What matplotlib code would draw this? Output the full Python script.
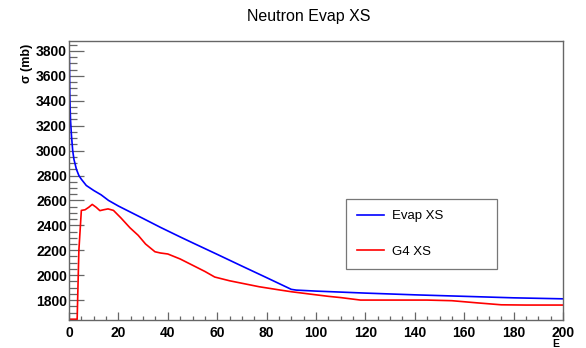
import matplotlib
matplotlib.use("Agg")
import matplotlib.pyplot as plt
from matplotlib.ticker import MultipleLocator

# Evap XS (blue)
evap_e = [0, 0.1, 0.3, 0.6, 1, 1.5, 2, 3, 4, 5, 7, 10, 13, 16, 20, 25, 30, 37, 45, 50, 60, 70, 80, 90,
          92, 100, 120, 140, 160, 180, 200]
evap_xs = [1660, 3780, 3450, 3250, 3120, 3000, 2930, 2850, 2800, 2770, 2720, 2680, 2645, 2600, 2555, 2505,
           2455, 2384, 2307, 2260, 2167, 2073, 1980, 1886, 1880, 1872, 1856, 1842, 1830, 1818, 1810]

# G4 XS (red)
g4_e = [0, 3.3, 4.0, 5.0, 6.5, 8, 9.4, 11, 12.5, 14, 15.8, 18, 21, 24.7, 28, 31, 34.8, 37, 40, 45, 50,
        55, 59, 65, 70, 77, 85, 90, 97.6, 105, 110, 118, 130, 145, 155, 165, 175, 185, 200]
g4_xs = [1646, 1646, 2200, 2520, 2525, 2545, 2568, 2545, 2518, 2525, 2532, 2520, 2460, 2380, 2320, 2250,
         2188, 2178, 2170, 2130, 2080, 2030, 1985, 1955, 1935, 1907, 1882, 1867, 1848, 1830, 1820, 1800,
         1800, 1800, 1795, 1778, 1762, 1760, 1760]

plt.rcParams['font.family'] = ['Liberation Sans', 'DejaVu Sans']

fig = plt.figure(figsize=(5.86, 3.48), dpi=100)
ax = fig.add_axes([69 / 586, 1 - 320 / 348, (563 - 69) / 586, (320 - 41) / 348])

ax.plot(evap_e, evap_xs, color="#0000ff", lw=1.2, label="Evap XS")
ax.plot(g4_e, g4_xs, color="#ff0000", lw=1.2, label="G4 XS")

ax.set_xlim(0, 200)
ax.set_ylim(1640, 3880)

ax.xaxis.set_major_locator(MultipleLocator(20))
ax.xaxis.set_minor_locator(MultipleLocator(5))
ax.yaxis.set_major_locator(MultipleLocator(200))
ax.yaxis.set_minor_locator(MultipleLocator(50))

frame_col = "#666666"
for s in ax.spines.values():
    s.set_color(frame_col)
    s.set_linewidth(1.0)

ax.tick_params(axis="y", which="major", direction="in", length=10.5, width=0.9, color=frame_col, pad=1.5)
ax.tick_params(axis="y", which="minor", direction="in", length=5.5, width=0.9, color=frame_col)
ax.tick_params(axis="x", which="major", direction="in", length=6, width=0.9, color=frame_col, pad=4)
ax.tick_params(axis="x", which="minor", direction="in", length=3, width=0.9, color=frame_col)
for lab in ax.get_xticklabels() + ax.get_yticklabels():
    lab.set_fontweight("bold")
    lab.set_fontsize(10)

fig.text(309 / 586, 1 - 17 / 348, "Neutron Evap XS", ha="center", va="center", fontsize=11.5)
fig.text(27 / 586, 1 - 44 / 348, "σ (mb)", rotation=90, ha="center", va="top",
         fontsize=9, fontweight="bold")
fig.text(559 / 586, 1 - 344 / 348, "E", ha="right", va="center", fontsize=7.5, fontweight="bold")

leg = ax.legend(loc="upper left",
                bbox_to_anchor=((346 - 69) / 494, (320 - 199) / 279, (497 - 346) / 494, 0.0),
                mode="expand", borderaxespad=0, fontsize=9.5, labelspacing=1.75, borderpad=0.85,
                handlelength=2.0, handletextpad=0.6, fancybox=False, framealpha=1)
leg.get_frame().set_edgecolor("#777777")
leg.get_frame().set_linewidth(0.9)

fig.savefig("out.png", dpi=100)
